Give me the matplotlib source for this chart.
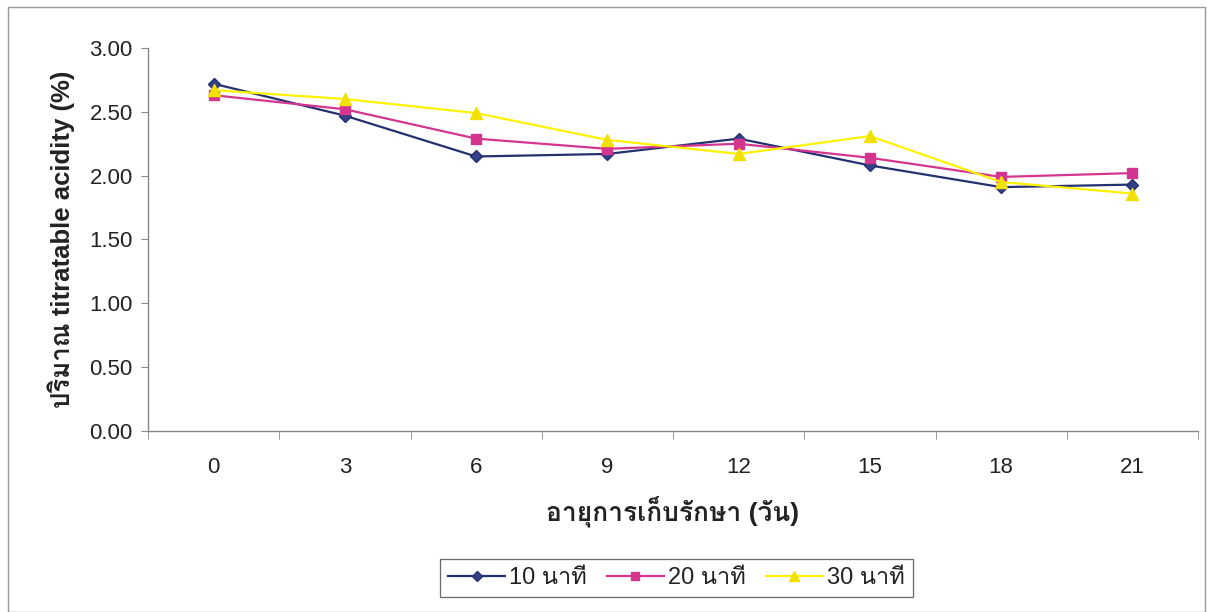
import matplotlib
import matplotlib.pyplot as plt
from matplotlib import font_manager
from matplotlib.ft2font import FT2Font
from matplotlib.patches import Rectangle

# storage days and titratable acidity (%) per heating time
days = [0, 3, 6, 9, 12, 15, 18, 21]
acid_10 = [2.72, 2.47, 2.15, 2.17, 2.29, 2.08, 1.91, 1.93]
acid_20 = [2.63, 2.52, 2.29, 2.21, 2.25, 2.14, 1.99, 2.02]
acid_30 = [2.67, 2.60, 2.49, 2.28, 2.17, 2.31, 1.95, 1.86]
series_names = ["10 นาที", "20 นาที", "30 นาที"]
y_ticks = [0.0, 0.5, 1.0, 1.5, 2.0, 2.5, 3.0]


def thai_family():
    # pick any installed font that actually carries Thai glyphs
    for f in font_manager.fontManager.ttflist:
        try:
            if ord("ก") in FT2Font(f.fname).get_charmap():
                return f.name
        except Exception:
            continue
    return None


th = thai_family()
fams = ["Liberation Sans"] + ([th] if th else []) + ["DejaVu Sans"]
plt.rcParams["font.family"] = fams

fig = plt.figure(figsize=(12.07, 6.12), dpi=100)
ax = fig.add_axes([0.1226, 0.2958, 0.870, 0.6258])

xs = list(range(len(days)))
ax.plot(xs, acid_10, color="#23316f", marker="D", ms=6.5, lw=1.6,
        markerfacecolor="#34418a", label=series_names[0])
ax.plot(xs, acid_20, color="#d4358f", marker="s", ms=7, lw=1.6,
        label=series_names[1])
ax.plot(xs, acid_30, color="#fff200", marker="^", ms=8, lw=1.6,
        markerfacecolor="#f2e000", markeredgecolor="#f2e000",
        label=series_names[2])

ax.set_xlim(-0.5, len(days) - 0.5)
ax.set_ylim(0, 3.0)
ax.set_yticks(y_ticks)
ax.set_yticklabels([f"{v:.2f}" for v in y_ticks], fontsize=16, color="#222222")
ax.set_xticks(xs)
ax.set_xticklabels([str(d) for d in days], fontsize=16, color="#222222")
ax.tick_params(axis="x", length=0, pad=19)
ax.tick_params(axis="y", direction="out", length=5, color="#888888", pad=6)
# Excel-style ticks sitting between categories
ax.set_xticks([x - 0.5 for x in range(len(days) + 1)], minor=True)
ax.tick_params(axis="x", which="minor", length=6, color="#888888")

for s in ["top", "right"]:
    ax.spines[s].set_visible(False)
for s in ["left", "bottom"]:
    ax.spines[s].set_color("#888888")
    ax.spines[s].set_linewidth(1.0)

ax.set_ylabel("ปริมาณ titratable acidity (%)", fontsize=18.5, fontweight="bold",
              labelpad=10, color="#222222")
ax.set_xlabel("อายุการเก็บรักษา (วัน)", fontsize=19, fontweight="bold",
              labelpad=12, color="#222222")

leg = fig.legend(loc="center", bbox_to_anchor=(0.5605, 0.0556), ncol=3,
                 fontsize=17, frameon=True, fancybox=False, handlelength=2.4,
                 columnspacing=0.85, handletextpad=0.18, borderpad=0.35,
                 markerscale=0.85)
leg.get_frame().set_edgecolor("#444444")
leg.get_frame().set_linewidth(0.9)
for t in leg.get_texts():
    t.set_color("#222222")

# outer chart frame
fig.patches.append(Rectangle((0.007, 0.0), 0.991, 0.988, transform=fig.transFigure,
                             fill=False, edgecolor="#999999", lw=1.0))

fig.savefig("out.png", dpi=100)
